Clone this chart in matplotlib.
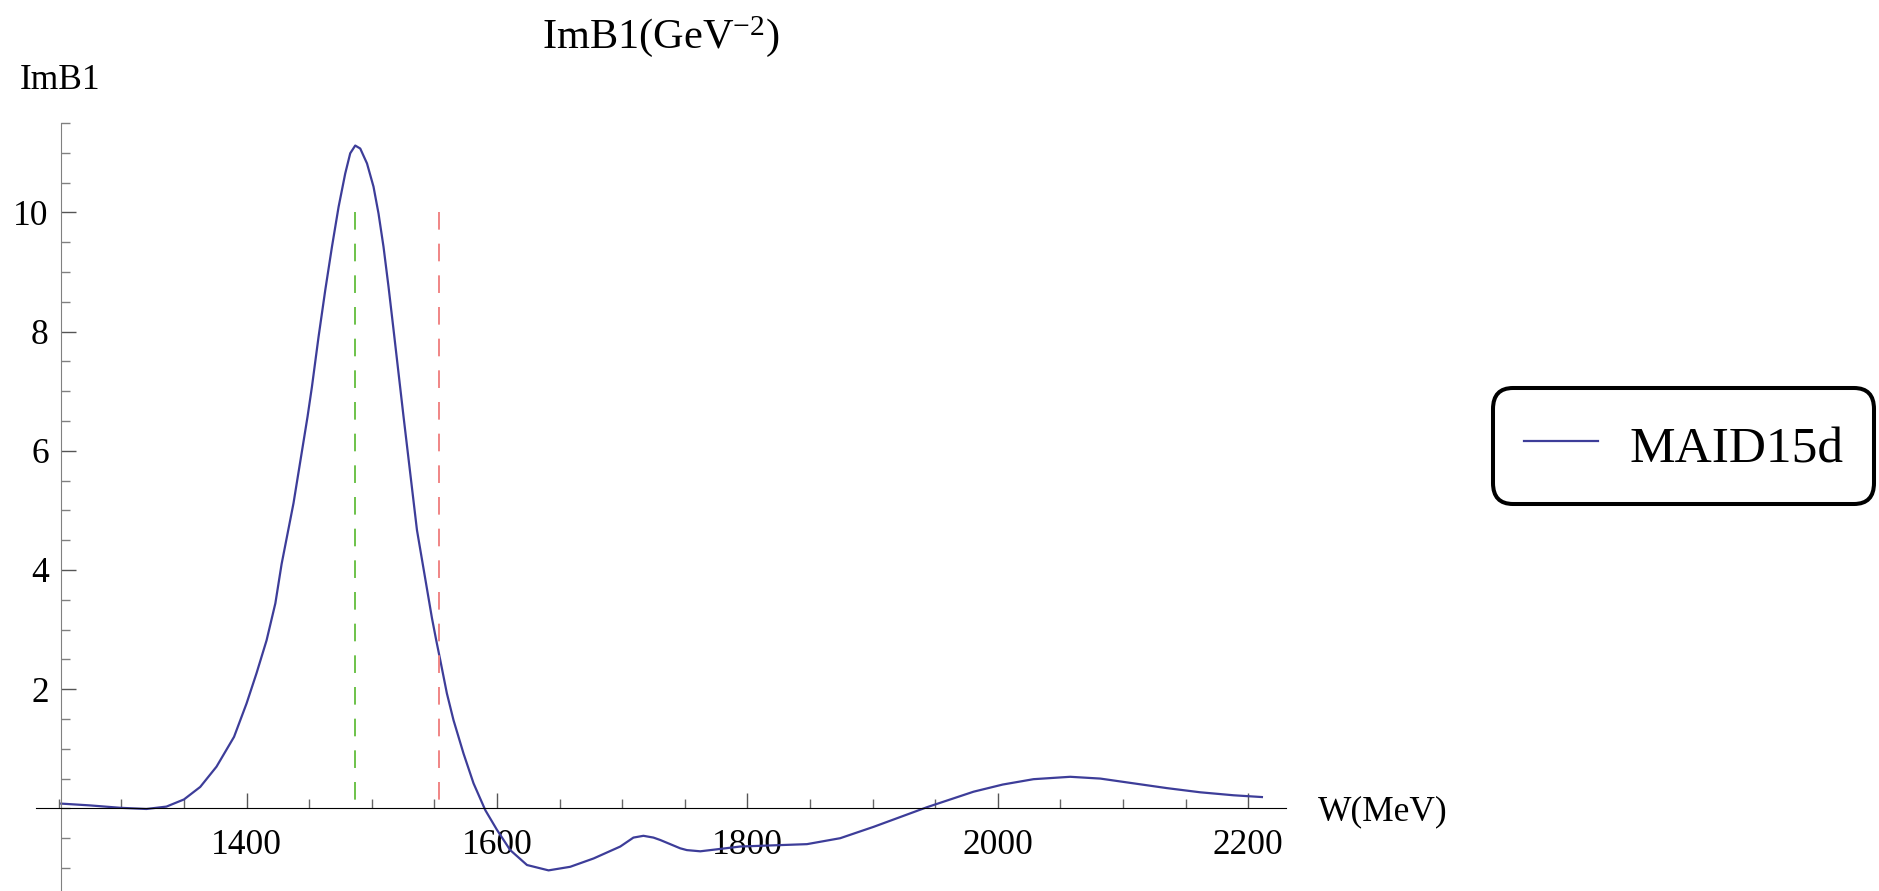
from matplotlib import pyplot as plt
from matplotlib.ticker import FixedLocator, MultipleLocator
import numpy as np

plt.rcParams['font.family'] = 'Liberation Serif'
plt.rcParams['mathtext.fontset'] = 'custom'
plt.rcParams['mathtext.rm'] = 'Liberation Serif'
plt.rcParams['mathtext.it'] = 'Liberation Serif:italic'
plt.rcParams['lines.scale_dashes'] = False

# ImB1 from MAID15d, W in MeV
w_mev = [1252, 1275, 1299, 1320, 1336, 1350, 1363, 1376, 1390, 1400,
         1408, 1416, 1423, 1428, 1437.5, 1448.7, 1452.2, 1457.5, 1462.9, 1468.2,
         1473.5, 1478.8, 1482.8, 1486.8, 1490.8, 1496.2, 1501.4, 1505.4, 1509.4, 1513.4,
         1517.4, 1521.4, 1525.4, 1536.1, 1548.1, 1551.5, 1554.7, 1560, 1565.3, 1573.3,
         1581.3, 1590.7, 1600, 1610.6, 1624, 1641.2, 1658.5, 1677.2, 1698.5, 1709,
         1717, 1725, 1730.4, 1746.4, 1751.7, 1762.4, 1794.3, 1847.6, 1874.2, 1900.8,
         1943.5, 1980.7, 2004, 2028.6, 2057.9, 2081.9, 2108.5, 2135.1, 2161.7, 2188.3,
         2211]
imb1 = [0.08, 0.05, 0.01, -0.01, 0.03, 0.15, 0.36, 0.70, 1.20, 1.76,
        2.27, 2.82, 3.44, 4.10, 5.12, 6.57, 7.07, 7.91, 8.70, 9.42,
        10.09, 10.65, 10.99, 11.12, 11.07, 10.82, 10.43, 9.98, 9.42, 8.75,
        8.03, 7.30, 6.57, 4.67, 3.19, 2.82, 2.49, 1.93, 1.48, 0.92,
        0.42, -0.03, -0.36, -0.70, -0.95, -1.04, -0.98, -0.84, -0.64, -0.49,
        -0.46, -0.49, -0.53, -0.67, -0.70, -0.72, -0.64, -0.60, -0.50, -0.31,
        0.02, 0.28, 0.40, 0.49, 0.53, 0.50, 0.42, 0.34, 0.27, 0.22,
        0.19]

# vertical markers (W, height)
w_green = 1487
w_red = 1554
marker_top = 10

x_major = [1400, 1600, 1800, 2000, 2200]
y_major = [2, 4, 6, 8, 10]

W, H = 1879, 891


def drawGraph():
	fig = plt.figure(figsize=(W / 100, H / 100), dpi=100)
	ax = fig.add_axes([35.6 / W, 0, (1285.7 - 35.6) / W, (H - 122.9) / H])
	ax.patch.set_visible(False)

	line, = ax.plot(w_mev, imb1, color='#3d3d99', lw=1.6, label='MAID15d')
	ax.plot([w_green, w_green], [marker_top, 0], color='#6cc24a', lw=1.4,
			dashes=(12.7, 10.1))
	ax.plot([w_red, w_red], [marker_top, 0], color='#f08585', lw=1.4,
			dashes=(12.7, 10.1))

	ax.set_xlim(1231.5, 2230)
	ax.set_ylim(-1.386, 11.5)

	for s in ['top', 'right']:
		ax.spines[s].set_visible(False)
	ax.spines['left'].set_position(('data', 1252))
	ax.spines['bottom'].set_position(('data', 0))
	ax.spines['left'].set_color('#808080')
	ax.spines['bottom'].set_color('black')

	ax.xaxis.set_major_locator(FixedLocator(x_major))
	ax.xaxis.set_minor_locator(MultipleLocator(50))
	ax.yaxis.set_major_locator(FixedLocator(y_major))
	ax.yaxis.set_minor_locator(MultipleLocator(0.5))

	ax.tick_params(axis='x', which='major', direction='in', length=10.8,
				   width=1, color='#555555', labelsize=25.5, pad=15)
	ax.tick_params(axis='x', which='minor', direction='in', length=6.5,
				   width=1, color='#666666')
	ax.tick_params(axis='y', which='major', direction='in', length=10.8,
				   width=1, color='#555555', labelsize=25.5, pad=9)
	ax.tick_params(axis='y', which='minor', direction='in', length=6.5,
				   width=1, color='#808080')

	fig.text(660.6 / W, 1 - 48.3 / H, r'ImB1(GeV$^{-2}$)', ha='center',
			 va='baseline', fontsize=30.5)
	fig.text(20 / W, 1 - 89.3 / H, 'ImB1', ha='left', va='baseline',
			 fontsize=25.5)
	fig.text(1318 / W, 1 - 820.7 / H, 'W(MeV)', ha='left', va='baseline',
			 fontsize=25.5)

	leg = fig.legend(handles=[line], loc='center',
					 bbox_to_anchor=((1492 + 1875) / 2 / W, 1 - 446 / H),
					 fontsize=37, handlelength=1.44, handletextpad=0.62,
					 handleheight=1.17, borderpad=0.6, frameon=True,
					 fancybox=True, framealpha=1)
	frame = leg.get_frame()
	frame.set_edgecolor('black')
	frame.set_linewidth(2.9)
	frame.set_boxstyle('round,pad=0,rounding_size=0.4')

	fig.savefig('out.png', dpi=100)


def main():
	drawGraph()


if __name__ == "__main__":
	main()
